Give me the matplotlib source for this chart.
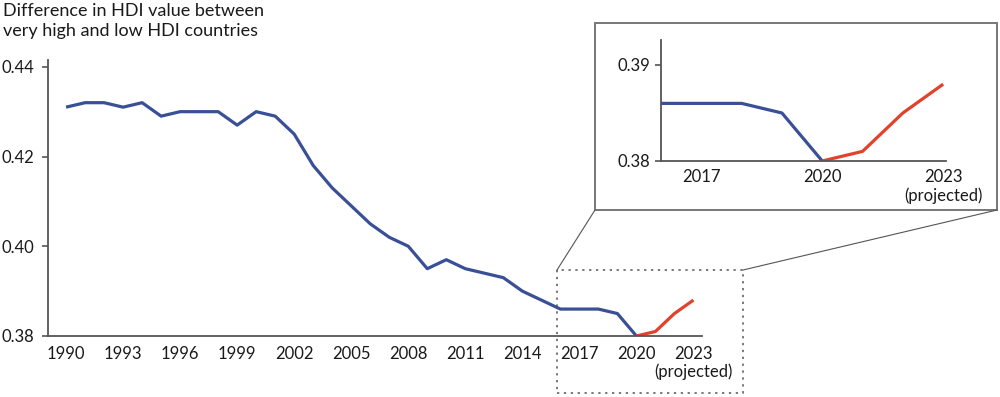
import matplotlib
matplotlib.use("Agg")
from matplotlib import pyplot as plt
from matplotlib.lines import Line2D
from matplotlib.patches import Rectangle

plt.rcParams["font.family"] = ["Lato", "DejaVu Sans"]

# observed values, 1990-2020
years = list(range(1990, 2021))
hdi_gap = [
    0.431, 0.432, 0.432, 0.431, 0.432, 0.429, 0.430, 0.430, 0.430, 0.427,
    0.430, 0.429, 0.425, 0.418, 0.413, 0.409, 0.405, 0.402, 0.400, 0.395,
    0.397, 0.395, 0.394, 0.393, 0.390, 0.388, 0.386, 0.386, 0.386, 0.385,
    0.380,
]

# projection
proj_years = [2020, 2021, 2022, 2023]
proj_gap = [0.380, 0.381, 0.385, 0.388]

main_ticks = list(range(1990, 2024, 3))
main_labels = [str(y) for y in main_ticks[:-1]] + ["2023\n(projected)"]
main_yticks = [0.38, 0.40, 0.42, 0.44]

zoom_ticks = [2017, 2020, 2023]
zoom_labels = ["2017", "2020", "2023\n(projected)"]
zoom_yticks = [0.38, 0.39]

BLUE = "#394f96"
RED = "#e2412b"
SPINE = "#555555"
TEXT = "#1a1a1a"


def style(ax):
    for s in ["top", "right"]:
        ax.spines[s].set_visible(False)
    for s in ["left", "bottom"]:
        ax.spines[s].set_color(SPINE)
        ax.spines[s].set_linewidth(1.3)
    ax.tick_params(axis="y", direction="out", length=4, width=1.2,
                   color=SPINE, pad=6, labelsize=12, labelcolor=TEXT)
    ax.tick_params(axis="x", length=0, pad=7, labelsize=12, labelcolor=TEXT)


fig = plt.figure(figsize=(10, 3.97), dpi=100)

# main chart
ax = fig.add_axes([0.048, 0.1537, 0.654, 0.695])
ax.plot(years, hdi_gap, color=BLUE, lw=2.3, solid_capstyle="butt")
ax.plot(proj_years, proj_gap, color=RED, lw=2.3, solid_capstyle="butt")
ax.set_xlim(1989.05, 2023.45)
ax.set_ylim(0.38, 0.4415)
ax.set_xticks(main_ticks)
ax.set_xticklabels(main_labels, linespacing=1.15)
ax.set_yticks(main_yticks)
ax.set_yticklabels([f"{v:.2f}" for v in main_yticks])
style(ax)

fig.text(0.003, 0.992, "Difference in HDI value between\nvery high and low HDI countries",
         ha="left", va="top", fontsize=13, color=TEXT, linespacing=1.3)

# dotted zoom region and connectors
fig.add_artist(Rectangle((0.557, 1 - 393 / 397), 0.186, 123 / 397,
                         transform=fig.transFigure, fill=False,
                         edgecolor="#555555", lw=1.1, linestyle=(0, (1.5, 3))))
fig.add_artist(Line2D([0.557, 0.595], [1 - 270 / 397, 1 - 210 / 397],
                      transform=fig.transFigure, color="#555555", lw=0.8))
fig.add_artist(Line2D([0.743, 0.997], [1 - 270 / 397, 1 - 210 / 397],
                      transform=fig.transFigure, color="#555555", lw=0.8))

# inset frame
fig.add_artist(Rectangle((0.595, 1 - 210 / 397), 0.402, 187 / 397,
                         transform=fig.transFigure, facecolor="white",
                         edgecolor="#777777", lw=1.4, zorder=1))

# inset chart
ins = fig.add_axes([0.661, 0.5945, 0.285, 0.3047])
ins.set_zorder(5)
ins.patch.set_alpha(0)
ins.plot(years, hdi_gap, color=BLUE, lw=2.3, solid_capstyle="butt")
ins.plot(proj_years, proj_gap, color=RED, lw=2.3, solid_capstyle="butt")
ins.set_xlim(2016, 2023.07)
ins.set_ylim(0.38, 0.3926)
ins.set_xticks(zoom_ticks)
ins.set_xticklabels(zoom_labels, linespacing=1.15)
ins.set_yticks(zoom_yticks)
ins.set_yticklabels([f"{v:.2f}" for v in zoom_yticks])
style(ins)
ins.tick_params(axis="y", pad=4)
ins.tick_params(axis="x", pad=6)

fig.savefig("out.png", dpi=100)
